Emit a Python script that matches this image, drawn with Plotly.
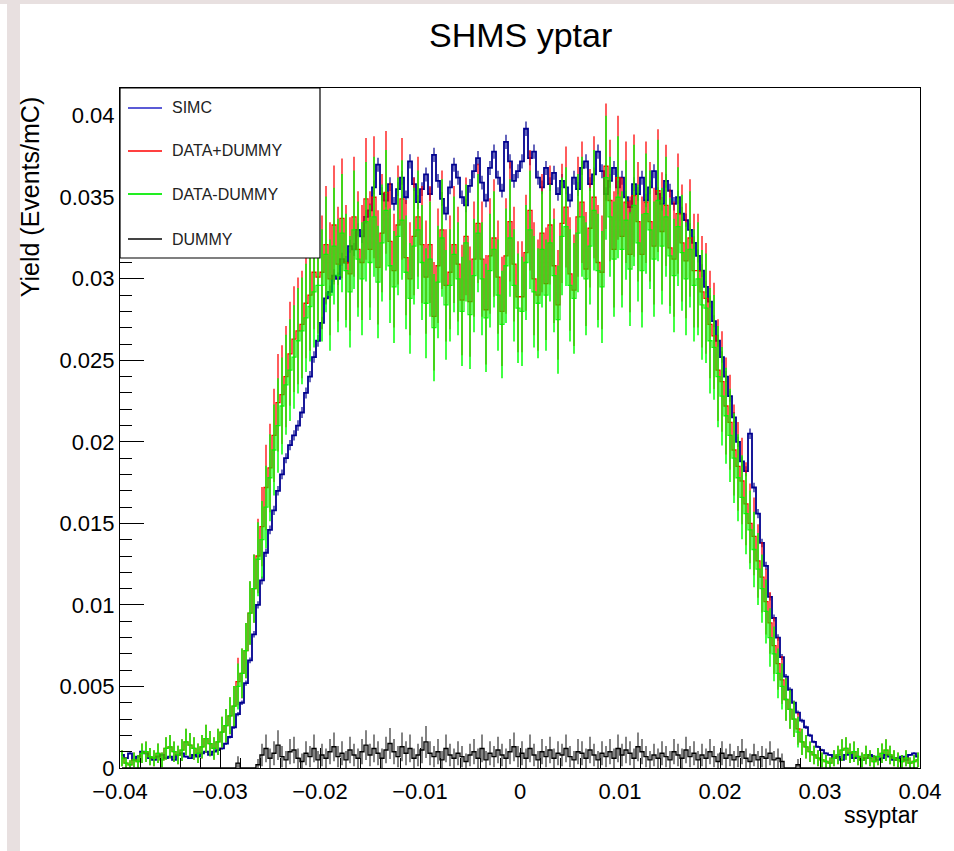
import numpy as np
import plotly.graph_objects as go

# ssyptar histogram: 200 bins on [-0.04, 0.04]
N_BINS = 200
X_MIN, X_MAX = -0.04, 0.04
UNIT = 1e-4  # yields below are stored in units of 1e-4 Events/mC

simc_yield = [
    8, 6, 9, 5, 7, 10, 9, 6, 5, 7, 8, 6, 7, 5, 8, 9, 7, 6, 8, 7, 9, 10, 8, 10, 11,
    12, 15, 19, 25, 33, 40, 52, 66, 82, 100, 115, 132, 146, 158, 170, 180, 190, 198, 204, 210, 218, 230, 240, 252, 262,
    273, 288, 292, 302, 300, 312, 310, 320, 318, 330, 326, 338,
    342, 356, 370, 352, 348, 358, 346, 355, 362, 350, 372, 358, 347, 355, 364, 352, 376, 360, 349, 340,
    356, 370, 362, 350, 345, 357, 366, 374, 359, 348, 368, 378, 362, 354, 384, 372, 360, 366,
    372, 392, 374, 378, 362, 356, 368, 358, 365, 352, 360, 356, 348, 362, 355, 368, 372, 358, 364, 378, 366, 352, 360, 368, 356,
    362, 350, 344, 358, 352, 362, 348, 356, 366, 352, 346, 360, 354, 346, 350, 340, 336, 330, 322, 314, 305, 295, 286, 274, 262,
    252, 240, 228, 215, 200, 188, 182, 205, 172, 156, 138, 124, 105, 92, 80, 68, 56, 48, 40, 34, 29, 25, 20, 16, 13,
    11, 9, 8, 6, 7, 5, 8, 9, 6, 7, 5, 6, 8, 7, 5, 6, 8, 7, 5, 6, 7, 5, 8, 9, 7,
]

data_plus_dummy = [
    6, 3, 2, 5, 4, 9, 10, 7, 6, 9, 5, 12, 13, 10, 8, 11, 16, 14, 12, 9, 13, 18, 15, 12, 16,
    22, 26, 32, 38, 53, 58, 72, 95, 110, 130,
    148, 172, 184, 204, 224, 229, 240, 254, 263, 268, 272, 285, 290, 304, 301,
    304, 321, 300, 333, 309, 337, 310, 303, 338, 318,
    310, 349, 318, 350, 307, 328, 353, 323, 305, 333,
    349, 313, 300, 326, 338, 321, 301, 321, 277, 308,
    330, 296, 304, 321, 309, 287, 326, 286, 312, 334,
    312, 281, 314, 325, 301, 280, 314, 335, 309, 289,
    289, 316, 342, 300, 290, 328, 297, 333, 308, 284,
    334, 344, 303, 293, 338, 347, 306, 331, 350, 310,
    304, 369, 348, 318, 362, 326, 347, 315, 351, 335,
    315, 347, 335, 320, 354, 329, 345, 319, 312, 340,
    322, 311, 325, 305, 305, 292, 288, 272, 265, 244,
    237, 222, 212, 195, 185, 176, 162, 150, 142, 127, 117, 102, 89, 75, 64, 54,
    42, 36, 30, 24, 16, 13, 10, 8, 6,
    5, 4, 3, 6, 8, 11, 12, 9, 10, 7, 5, 8, 6, 4, 7, 9, 11, 8, 6, 5, 4, 6, 3, 4, 5,
]

data_minus_dummy = [
    6, 3, 2, 5, 4, 9, 10, 7, 6, 9, 5, 12, 13, 10, 8, 11, 16, 14, 12, 9, 13, 18, 15, 12, 16,
    22, 26, 32, 38, 50, 58, 72, 95, 110, 128, 140, 160, 178, 195, 210, 222, 235, 244, 252, 262, 268, 276, 283, 292, 296,
    296, 315, 290, 320, 302, 328, 305, 292, 330, 312,
    300, 335, 310, 338, 298, 322, 342, 308, 295, 326,
    336, 304, 288, 320, 330, 310, 285, 312, 270, 298,
    325, 284, 296, 315, 300, 280, 322, 278, 302, 328,
    300, 276, 305, 318, 290, 272, 308, 325, 296, 282,
    280, 310, 330, 292, 285, 318, 290, 322, 302, 275,
    326, 332, 296, 288, 328, 338, 300, 320, 342, 305,
    295, 362, 338, 312, 350, 318, 336, 306, 345, 322,
    305, 340, 330, 312, 348, 320, 338, 314, 302, 332,
    316, 300, 318, 296, 300, 284, 282, 262, 258, 240,
    228, 216, 204, 190, 178, 166, 156, 146, 134, 122, 110, 96, 80, 70, 58, 50, 42, 36, 30, 22, 16, 13, 10, 8, 6,
    5, 4, 3, 6, 8, 11, 12, 9, 10, 7, 5, 8, 6, 4, 7, 9, 11, 8, 6, 5, 4, 6, 3, 4, 5,
]

dummy_yield = (
    [0] * 29 + [3, 0, 0, 0, 0, 2]
    + [8, 12, 6, 9, 14, 7, 5, 10, 11, 6, 4, 9, 7, 12, 5, 8, 6, 10, 13, 7, 9, 5, 11, 8, 6]
    + [10, 14, 8, 12, 9, 6, 11, 15, 10, 7, 13, 9, 12, 6, 8, 11, 16, 9, 7, 10, 5, 12, 8, 6, 9]
    + [7, 4, 8, 10, 6, 12, 5, 9, 7, 11, 8, 6, 10, 13, 7, 9, 6, 12, 8, 5, 10, 7, 11, 6, 9]
    + [8, 12, 7, 5, 10, 9, 6, 11, 8, 5, 9, 7, 10, 6, 12, 8, 11, 9, 6, 13, 10, 7, 5, 8, 6]
    + [9, 7, 5, 10, 8, 6, 11, 7, 9, 5, 8, 6, 10, 7, 4, 9, 6, 8, 5, 7, 10, 6, 4, 8, 5, 7, 6, 9, 5, 6, 4]
    + [0, 0, 0, 2] + [0] * 30
)

# yield per single event (Events/mC), used for the Poisson error bars
SIMC_WEIGHT = 5e-6
DATA_WEIGHT = 4e-4
DUMMY_WEIGHT = 6e-4

edges = np.linspace(X_MIN, X_MAX, N_BINS + 1)
centers = 0.5 * (edges[:-1] + edges[1:])

FONT = "Liberation Sans, Arial, sans-serif"


def hist_trace(values, weight, line_color, err_color, width, err_width, name):
    y = np.asarray(values, dtype=float) * UNIT
    err = np.sqrt(y * weight)
    return go.Scatter(
        x=centers, y=y, mode="lines", name=name, showlegend=False,
        line=dict(color=line_color, width=width, shape="hvh"),
        error_y=dict(type="data", array=err, visible=True, color=err_color,
                     thickness=err_width, width=0),
    )


fig = go.Figure()
fig.add_trace(hist_trace(simc_yield, SIMC_WEIGHT, "#00008f", "#00008f", 1.8, 1.2, "SIMC"))
fig.add_trace(hist_trace(data_plus_dummy, DATA_WEIGHT, "rgb(255,0,0)", "rgba(255,0,0,0.8)", 1.3, 1.6, "DATA+DUMMY"))
fig.add_trace(hist_trace(data_minus_dummy, DATA_WEIGHT, "rgba(0,245,0,0.9)", "rgba(0,255,0,0.92)", 1.3, 1.6, "DATA-DUMMY"))
fig.add_trace(hist_trace(dummy_yield, DUMMY_WEIGHT, "black", "rgba(20,20,20,0.75)", 1.4, 1.4, "DUMMY"))

# legend box drawn in paper coordinates (top-left corner of the frame)
legend_entries = [("SIMC", "#5b5bd6"), ("DATA+DUMMY", "#ff4040"),
                  ("DATA-DUMMY", "#22ee22"), ("DUMMY", "#444444")]
legend_rows = [0.9706, 0.9074, 0.8441, 0.7779]
shapes = [
    dict(type="rect", xref="paper", yref="paper", x0=0, x1=0.25, y0=0.75, y1=1.0,
         line=dict(color="black", width=1.2), fillcolor="white", layer="above"),
]
annotations = []
for (label, color), yrow in zip(legend_entries, legend_rows):
    shapes.append(dict(type="line", xref="paper", yref="paper", x0=0.01, x1=0.0525,
                       y0=yrow, y1=yrow, line=dict(color=color, width=2), layer="above"))
    annotations.append(dict(text=label, xref="paper", yref="paper", x=0.0625, y=yrow,
                            xanchor="left", yanchor="middle", showarrow=False,
                            font=dict(family=FONT, size=16, color="#222222")))

# light border strips of the canvas
shapes.append(dict(type="rect", xref="paper", yref="paper", x0=-0.15, x1=1.05,
                   y0=1.1235, y1=1.135, line=dict(width=0), fillcolor="#e8e0e0", layer="below"))
shapes.append(dict(type="rect", xref="paper", yref="paper", x0=-0.14125, x1=-0.125,
                   y0=-0.125, y1=1.1235, line=dict(width=0), fillcolor="#e8e0e0", layer="below"))

annotations += [
    dict(text="SHMS yptar", xref="paper", yref="paper", x=0.5, y=1.078,
         xanchor="center", yanchor="middle", showarrow=False,
         font=dict(family=FONT, size=34, color="black")),
    dict(text="ssyptar", xref="paper", yref="paper", x=1.0, y=-0.069,
         xanchor="right", yanchor="middle", showarrow=False,
         font=dict(family=FONT, size=23, color="black")),
    dict(text="Yield (Events/mC)", xref="paper", yref="paper", x=-0.1125, y=0.99,
         xanchor="center", yanchor="top", textangle=-90, showarrow=False,
         font=dict(family=FONT, size=25, color="black")),
]

axis_common = dict(showgrid=False, zeroline=False, showline=True, mirror=True,
                   linecolor="black", linewidth=1.2, ticks="inside",
                   tickcolor="black", tickfont=dict(family=FONT, size=22, color="black"))

fig.update_layout(
    width=954, height=851,
    margin=dict(l=120, r=34, t=88, b=83),
    paper_bgcolor="white", plot_bgcolor="white",
    showlegend=False,
    shapes=shapes, annotations=annotations,
    xaxis=dict(range=[X_MIN, X_MAX], tickmode="linear", tick0=-0.04, dtick=0.01,
               ticklen=20, tickwidth=1.2, ticklabelstandoff=3,
               minor=dict(dtick=0.002, ticklen=10, ticks="inside", tickcolor="black"),
               **axis_common),
    yaxis=dict(range=[0, 0.0417], tickmode="linear", tick0=0, dtick=0.005,
               ticklen=24, tickwidth=1.2,
               minor=dict(dtick=0.001, ticklen=12, ticks="inside", tickcolor="black"),
               **axis_common),
)

fig.write_html("out.html")
